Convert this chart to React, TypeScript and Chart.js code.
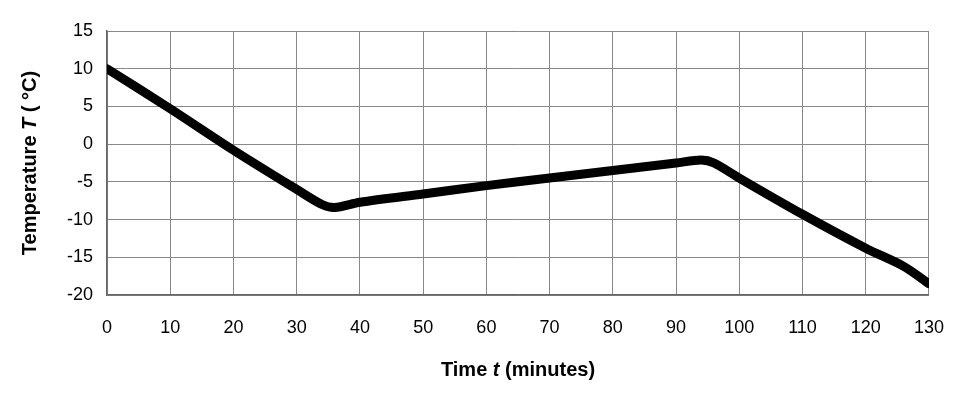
import React, { useEffect, useRef } from "react";
import { Chart, registerables } from "chart.js";
Chart.register(...registerables);

const timeMinutes = [0, 10, 20, 30, 34, 36, 40, 50, 60, 70, 80, 90, 94, 96, 100, 110, 120, 126, 130];
const temperature = [10, 4.7, -0.8, -6, -8, -8.4, -7.7, -6.6, -5.5, -4.5, -3.5, -2.5, -2.1, -2.5, -4.5, -9.3, -13.8, -16.2, -18.5];
const xTitle = [["Time ", "bold"], ["t", "bold italic"], [" (minutes)", "bold"]];
const yTitle = [["Temperature ", "bold"], ["T", "bold italic"], [" ( °C)", "bold"]];

const FONT = "Liberation Sans, Arial, sans-serif";

function drawRich(ctx: CanvasRenderingContext2D, parts: string[][], size: number) {
  let total = 0;
  for (const [t, s] of parts) { ctx.font = `${s} ${size}px ${FONT}`; total += ctx.measureText(t).width; }
  let x = -total / 2;
  for (const [t, s] of parts) {
    ctx.font = `${s} ${size}px ${FONT}`;
    ctx.fillText(t, x, 0);
    x += ctx.measureText(t).width;
  }
}

const titlesPlugin = {
  id: "titles",
  afterDraw(chart: any) {
    const ctx = chart.ctx as CanvasRenderingContext2D;
    const a = chart.chartArea;
    ctx.save();
    ctx.fillStyle = "#000";
    ctx.textBaseline = "middle";
    ctx.textAlign = "left";
    ctx.translate((a.left + a.right) / 2, 370);
    drawRich(ctx, xTitle, 20);
    ctx.restore();
    ctx.save();
    ctx.fillStyle = "#000";
    ctx.textBaseline = "middle";
    ctx.translate(30, (a.top + a.bottom) / 2);
    ctx.rotate(-Math.PI / 2);
    drawRich(ctx, yTitle, 20);
    ctx.restore();
  },
};

export default function App() {
  const ref = useRef<HTMLCanvasElement>(null);
  useEffect(() => {
    document.body.style.margin = "0";
    const chart = new Chart(ref.current!, {
      type: "line",
      data: {
        datasets: [{
          data: timeMinutes.map((x, i) => ({ x, y: temperature[i] })),
          borderColor: "#000",
          borderWidth: 9,
          pointRadius: 0,
          tension: 0.3,
          borderCapStyle: "round",
        }],
      },
      options: {
        animation: false,
        responsive: false,
        layout: { padding: { top: 31, right: 36, left: 0, bottom: 0 } },
        plugins: { legend: { display: false }, tooltip: { enabled: false } },
        scales: {
          x: {
            type: "linear", min: 0, max: 130,
            ticks: { stepSize: 10, color: "#000", font: { size: 18, family: FONT }, padding: 22 },
            grid: { color: "#888", lineWidth: 1, drawTicks: false },
            border: { color: "#666", width: 1.5 },
            afterFit: (s: any) => { s.height = 119; },
          },
          y: {
            min: -20, max: 15,
            ticks: { stepSize: 5, color: "#000", font: { size: 18, family: FONT }, padding: 14 },
            grid: { color: "#888", lineWidth: 1, drawTicks: false },
            border: { color: "#666", width: 1.5 },
            afterFit: (s: any) => { s.width = 107; },
          },
        },
      },
      plugins: [titlesPlugin],
    } as any);
    return () => chart.destroy();
  }, []);
  return <canvas ref={ref} width={966} height={414} style={{ display: "block" }} />;
}
